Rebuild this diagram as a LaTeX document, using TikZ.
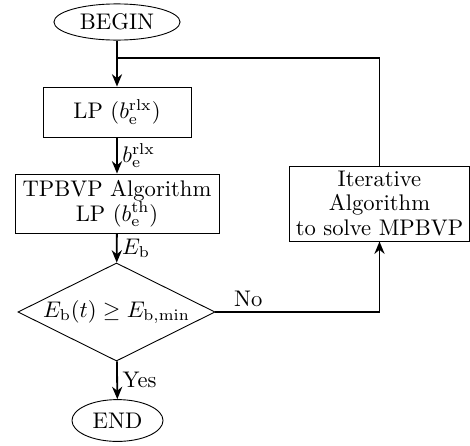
\documentclass[tikz,border=0pt]{standalone}
\usetikzlibrary{shapes.geometric,arrows.meta}
\begin{document}
\begin{tikzpicture}[x=0.4425pt,y=-0.4425pt,
  term/.style={draw, ellipse, inner sep=0pt, line width=0.4pt},
  proc/.style={draw, rectangle, align=center, inner sep=0pt, line width=0.4pt},
  dec/.style={draw, diamond, aspect=2, inner sep=0pt, line width=0.4pt},
  flow/.style={line width=0.8pt, -{Stealth[length=5.5pt,width=4.5pt]}},
  link/.style={line width=0.8pt},
  lbl/.style={inner sep=2pt}]
\useasboundingbox (0,0) rectangle (470,445);
\node[term, minimum width=55.8pt, minimum height=16pt] (begin) at (117,22) {BEGIN};
\node[proc, minimum width=65.5pt, minimum height=22.1pt] (lp) at (117,112) {LP $(b_\mathrm{e}^\mathrm{rlx})$};
\node[proc, minimum width=90.3pt, minimum height=26.1pt] (tp) at (117,203.5) {TPBVP Algorithm\\[-1pt] LP $(b_\mathrm{e}^\mathrm{th})$};
\node[dec, minimum width=87.2pt, minimum height=43.4pt] (dia) at (116.5,312) {$E_\mathrm{b}(t)\geq E_{\mathrm{b},\min}$};
\node[term, minimum width=40.3pt, minimum height=18.5pt] (end) at (117.5,420.5) {END};
\node[proc, minimum width=79.7pt, minimum height=33.2pt] (iter) at (379.5,203.5) {Iterative\\[-1pt] Algorithm\\[-1pt] to solve MPBVP};
\coordinate (join) at (117,58);
\draw[flow] (begin) -- (lp);
\draw[flow] (lp) -- node[right, lbl] {$b_\mathrm{e}^\mathrm{rlx}$} (tp);
\draw[flow] (tp) -- node[right, lbl] {$E_\mathrm{b}$} (dia);
\draw[flow] (dia) -- node[right, lbl] {Yes} (end);
\draw[flow] (dia.east) -| node[pos=0.1, above, lbl] {No} (iter.south);
\draw[link] (iter.north) |- (join);
\end{tikzpicture}
\end{document}
